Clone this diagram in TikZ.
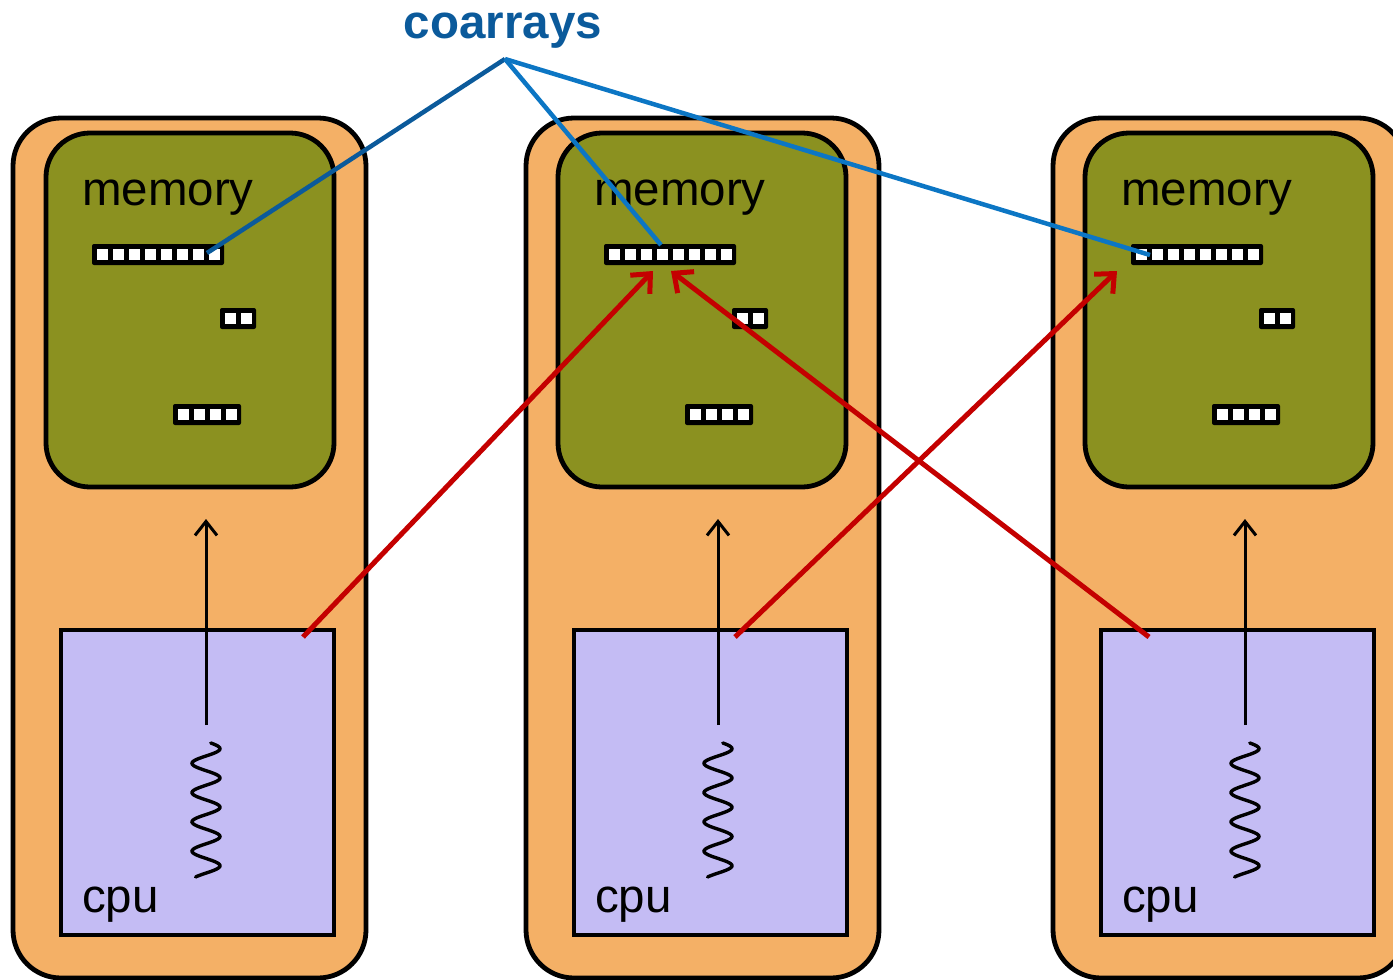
\documentclass[tikz,border=0pt]{standalone}
\usepackage{fontspec}
\setmainfont{Liberation Sans}
\usetikzlibrary{arrows.meta,calc}

\definecolor{nodeorange}{RGB}{244,176,102}
\definecolor{memolive}{RGB}{139,145,32}
\definecolor{cpulilac}{RGB}{196,188,244}
\definecolor{cadark}{RGB}{11,90,155}
\definecolor{calight}{RGB}{12,118,196}
\definecolor{putred}{RGB}{196,0,0}

\tikzset{
  imagebox/.style={draw=black, line width=4.8pt, rounded corners=48pt, fill=nodeorange,
    minimum width=353, minimum height=860, anchor=north west, inner sep=0pt, outer sep=0pt},
  membox/.style={draw=black, line width=4.8pt, rounded corners=44pt, fill=memolive,
    minimum width=288, minimum height=354, anchor=north west, inner sep=0pt, outer sep=0pt},
  cpubox/.style={draw=black, line width=4.8pt, fill=cpulilac,
    minimum width=273, minimum height=305, anchor=north west, inner sep=0pt, outer sep=0pt},
  strip/.style={fill=black, rounded corners=2pt, minimum height=21, inner sep=0pt,
    outer sep=0pt, anchor=west},
  boxlabel/.style={anchor=base west, inner sep=0pt, font=\fontsize{47.5}{50}\selectfont},
  coline/.style={line width=4.5pt},
  getarrow/.style={draw=putred, line width=5pt,
    -{Straight Barb[length=15pt, width=27pt, line cap=butt]}},
  flowarrow/.style={draw=black, line width=3pt,
    -{Straight Barb[length=14pt, width=22pt]}},
  wave/.style={draw=black, line width=3.4pt, line cap=round},
}

% black bar of n white cells, left end at (x,y)
\newcommand\cellstrip[4]{%
  \node[strip, minimum width={16*#2+4}] (#1) at (#3,#4) {};
  \foreach \k in {1,...,#2}
    \fill[white] ($(#1.west)+({16*\k-11.5},-5.5)$) rectangle ++(11,11);
}

\begin{document}
\begin{tikzpicture}[x=1pt,y=-1pt]
\path[use as bounding box] (0,0) rectangle (1393,980);
\clip (0,0) rectangle (1393,980);

% three images: node, memory with its arrays, cpu
\foreach \i/\ox/\mo in {1/13/33,2/526/32,3/1053/32}{
  \pgfmathsetmacro\mx{\ox+\mo}
  \pgfmathsetmacro\cx{\ox+48}
  \pgfmathsetmacro\ax{\mx+160}
  \node[imagebox] (img\i) at (\ox,118) {};
  \node[membox] (mem\i) at (\mx,133) {};
  \node[cpubox] (cpu\i) at (\cx,630) {};
  \node[boxlabel] (memtext\i) at (\mx+36,205) {memory};
  \node[boxlabel] (cputext\i) at (\cx+21,912) {cpu};
  \cellstrip{long\i}{8}{\mx+46}{254.5}
  \cellstrip{pair\i}{2}{\mx+174}{318.5}
  \cellstrip{quad\i}{4}{\mx+127}{414.5}
  % local access of the cpu to its memory
  \coordinate (runtop\i) at (\ax,725);
  \coordinate (memin\i) at (\ax,519);
  \draw[flowarrow] (runtop\i) -- (memin\i);
  \draw[wave] plot[variable=\t, domain=0:134, samples=140, smooth]
    ({\ax + 14*sin(20 + 12.3*\t)}, {743 + \t});
}

% label and links to the coarray in every image
\node[font=\bfseries\fontsize{47.5}{50}\selectfont, text=cadark, anchor=base,
  inner sep=0pt] (title) at (503,38) {coarrays};
\coordinate (apex) at (505,59);
\coordinate (co1) at (207,253);
\coordinate (co2) at (661,245);
\coordinate (co3) at (1150,255);
\draw[coline, cadark] (apex) -- (co1);
\draw[coline, calight] (apex) -- (co2);
\draw[coline, calight] (apex) -- (co3);

% remote accesses between images
\coordinate (src1) at (303,637);
\coordinate (src2) at (735,637);
\coordinate (src3) at (1149,637);
\coordinate (dst1) at (653,271);
\coordinate (dst2) at (671,271);
\coordinate (dst3) at (1117,271);
\draw[getarrow] (src1) -- (dst1);
\draw[getarrow] (src3) -- (dst2);
\draw[getarrow] (src2) -- (dst3);
\end{tikzpicture}
\end{document}
